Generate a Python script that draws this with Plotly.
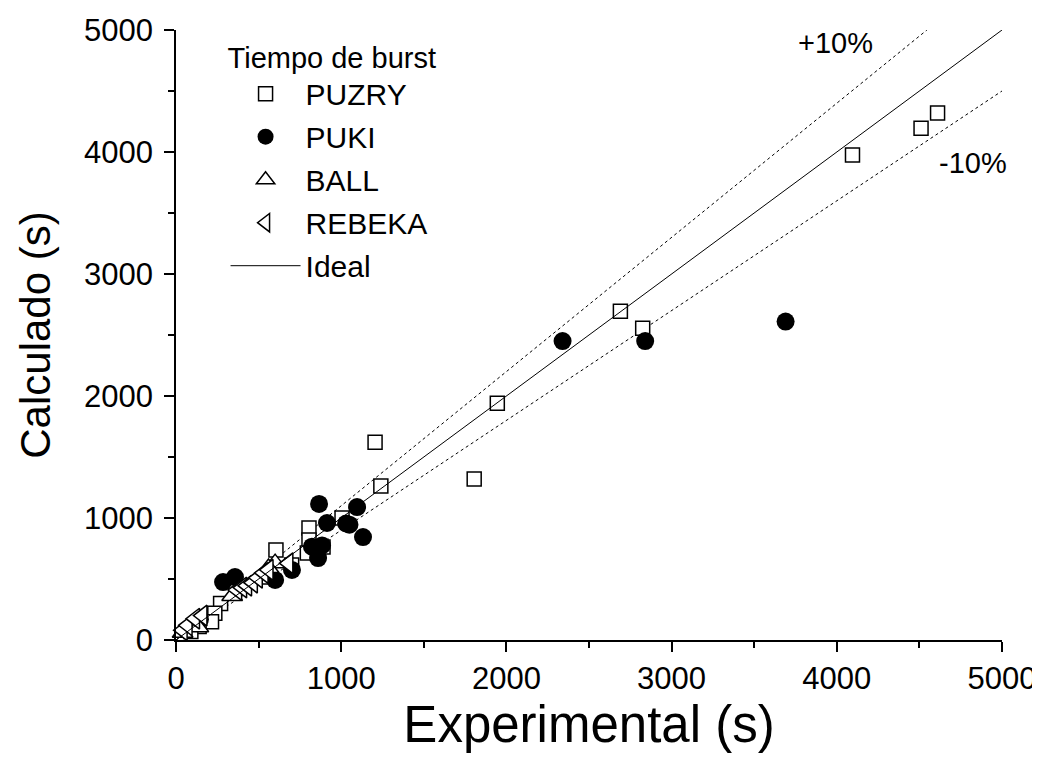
import plotly.graph_objects as go

# PUZRY (open squares)
puzry_x = [4610, 4510, 4095, 2825, 2690, 1945, 1805, 1205, 1240, 1005, 805, 805, 890, 795, 605, 700, 270, 235, 215, 140, 90]
puzry_y = [4320, 4195, 3975, 2555, 2695, 1940, 1320, 1620, 1262, 1000, 918, 820, 762, 713, 738, 615, 300, 220, 150, 110, 70]

# PUKI (filled circles)
puki_x = [3690, 2340, 2840, 866, 1096, 914, 1030, 1050, 1132, 823, 884, 860, 702, 600, 285, 357, 145]
puki_y = [2610, 2450, 2450, 1115, 1090, 959, 955, 945, 844, 765, 775, 672, 574, 492, 475, 516, 170]

# BALL (open up-triangles)
ball_x = [600, 560, 500, 340, 135, 40]
ball_y = [630, 590, 495, 360, 105, 60]

# REBEKA (open left-triangles)
rebeka_x = [40, 70, 115, 160, 370, 400, 430, 465, 495, 530, 560, 680]
rebeka_y = [80, 120, 175, 200, 410, 430, 445, 470, 510, 550, 575, 630]

# Reference lines
ideal_x = [0, 5000]
plus10_x = [0, 5000 / 1.1]
minus10_x = [0, 5000]

FONT = "Liberation Sans, Arial, sans-serif"

fig = go.Figure()

fig.add_trace(go.Scatter(x=plus10_x, y=[v * 1.1 for v in plus10_x], mode="lines",
                         line=dict(color="black", width=1, dash="3px,3px"), showlegend=False, hoverinfo="skip"))
fig.add_trace(go.Scatter(x=minus10_x, y=[v * 0.9 for v in minus10_x], mode="lines",
                         line=dict(color="black", width=1, dash="3px,3px"), showlegend=False, hoverinfo="skip"))

mk_line = dict(color="black", width=1.5)
fig.add_trace(go.Scatter(x=puzry_x, y=puzry_y, mode="markers", name="PUZRY", legendgroup="a",
                         marker=dict(symbol="square", size=14, color="white", line=mk_line), cliponaxis=False))
fig.add_trace(go.Scatter(x=puki_x, y=puki_y, mode="markers", name="PUKI", legendgroup="b",
                         marker=dict(symbol="circle", size=18, color="black", line=dict(color="black", width=0)), cliponaxis=False))
fig.add_trace(go.Scatter(x=ball_x, y=ball_y, mode="markers", name="BALL", legendgroup="c",
                         marker=dict(symbol="triangle-up", size=18, color="white", line=mk_line), cliponaxis=False))
fig.add_trace(go.Scatter(x=rebeka_x, y=rebeka_y, mode="markers", name="REBEKA", legendgroup="d",
                         marker=dict(symbol="triangle-left", size=18, color="white", line=mk_line), cliponaxis=False))
fig.add_trace(go.Scatter(x=ideal_x, y=ideal_x, mode="lines", name="Ideal", legendgroup="e",
                         line=dict(color="black", width=1)))

fig.add_annotation(x=3990, y=1.008, xref="x", yref="paper", text="+10%", showarrow=False,
                   font=dict(family=FONT, size=29, color="black"))
fig.add_annotation(x=4825, y=3910, xref="x", yref="y", text="-10%", showarrow=False,
                   font=dict(family=FONT, size=29, color="black"))

axis_common = dict(
    range=[0, 5000], dtick=1000, tick0=0, showgrid=False, zeroline=False,
    showline=True, linecolor="black", linewidth=1.5, automargin=False,
    ticks="outside", ticklen=10, tickwidth=1.5, tickcolor="black",
    tickfont=dict(family=FONT, size=31, color="black"),
    minor=dict(dtick=500, ticks="outside", ticklen=6, tickwidth=1.5, tickcolor="black", showgrid=False),
)

fig.update_layout(
    width=1032, height=756,
    margin=dict(l=168, r=38, t=22, b=124),
    paper_bgcolor="white", plot_bgcolor="white",
    font=dict(family=FONT, color="black"),
    xaxis=dict(**axis_common, title=dict(text="Experimental (s)", font=dict(family=FONT, size=51), standoff=10)),
    yaxis=dict(**axis_common, ticklabelstandoff=5,
               title=dict(text="Calculado (s)", font=dict(family=FONT, size=42), standoff=20)),
    showlegend=True,
    legend=dict(
        x=0.06, y=1.0, xanchor="left", yanchor="top",
        bgcolor="rgba(0,0,0,0)", borderwidth=0,
        font=dict(family=FONT, size=30, color="black"),
        title=dict(text="Tiempo de burst", font=dict(family=FONT, size=29, color="black")),
        traceorder="grouped", tracegroupgap=1, itemwidth=70,
    ),
)

fig.write_html("out.html")
